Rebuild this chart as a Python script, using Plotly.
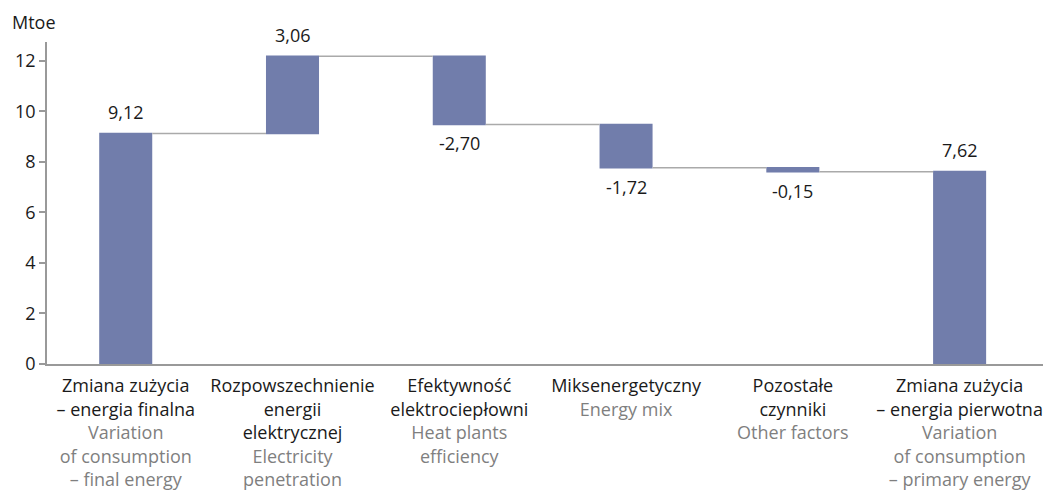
import plotly.graph_objects as go

categories_pl = [
    "Zmiana zużycia<br>– energia finalna",
    "Rozpowszechnienie<br>energii<br>elektrycznej",
    "Efektywność<br>elektrociepłowni",
    "Miksenergetyczny",
    "Pozostałe<br>czynniki",
    "Zmiana zużycia<br>– energia pierwotna",
]
categories_en = [
    "Variation<br>of consumption<br>– final energy",
    "Electricity<br>penetration",
    "Heat plants<br>efficiency",
    "Energy mix",
    "Other factors",
    "Variation<br>of consumption<br>– primary energy",
]
values = [9.12, 3.06, -2.70, -1.72, -0.15, 7.62]
measures = ["absolute", "relative", "relative", "relative", "relative", "absolute"]

labels = [f"{v:.2f}".replace(".", ",") for v in values]
positions = list(range(len(values)))
ticktext = [f"{pl}<br><span style='color:#7f7f7f'>{en}</span>" for pl, en in zip(categories_pl, categories_en)]

# running level at the end of each bar (for label placement)
ends = []
level = 0.0
for v, m in zip(values, measures):
    level = v if m == "absolute" else level + v
    ends.append(level)

BAR = "#717dab"
FONT = "Open Sans"
FS = 18

fig = go.Figure(go.Waterfall(
    x=positions,
    y=values,
    measure=measures,
    width=0.318,
    increasing=dict(marker=dict(color=BAR)),
    decreasing=dict(marker=dict(color=BAR)),
    totals=dict(marker=dict(color=BAR)),
    connector=dict(mode="between", line=dict(color="#aaaaaa", width=1.5)),
    hoverinfo="skip",
))

annotations = [dict(
    text="Mtoe", x=0, y=1, xref="paper", yref="paper",
    xshift=-37, yshift=20, xanchor="left", yanchor="middle",
    showarrow=False, font=dict(family=FONT, size=FS, color="#1a1a1a"),
)]
for p, v, e, lab in zip(positions, values, ends, labels):
    annotations.append(dict(
        x=p, y=e, xref="x", yref="y", text=lab, showarrow=False,
        yshift=21 if v >= 0 else -19, xanchor="center", yanchor="middle",
        font=dict(family=FONT, size=FS, color="#1a1a1a"),
    ))

# page body has an 8px margin, so the figure is sized/offset to land the
# plot area where the reference has it
fig.update_layout(
    width=1043, height=494,
    margin=dict(l=39, r=8, t=34, b=138),
    paper_bgcolor="white", plot_bgcolor="white",
    showlegend=False,
    font=dict(family=FONT, size=FS, color="#1a1a1a"),
    xaxis=dict(
        range=[-0.472, 5.5], automargin=False,
        tickmode="array", tickvals=positions, ticktext=ticktext,
        showline=True, linecolor="#999999", linewidth=1.5,
        ticks="", showgrid=False, zeroline=False, ticklabelstandoff=5,
        tickfont=dict(family=FONT, size=FS, color="#1a1a1a"),
    ),
    yaxis=dict(
        range=[0, 12.74], automargin=False,
        tickvals=[0, 2, 4, 6, 8, 10, 12],
        showline=True, linecolor="#999999", linewidth=1.5,
        ticks="outside", ticklen=6, tickcolor="#999999", tickwidth=1.5,
        showgrid=False, zeroline=False,
        tickfont=dict(family=FONT, size=FS, color="#1a1a1a"),
    ),
    annotations=annotations,
)

fig.write_html("out.html")
